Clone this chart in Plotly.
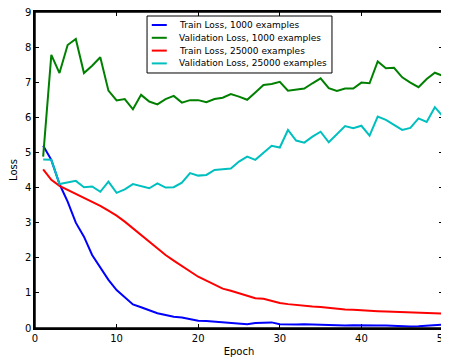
import plotly.graph_objects as go

epochs = list(range(1, 51))

train_1000 = [5.19, 4.79, 4.10, 3.60, 3.00, 2.60, 2.08, 1.73, 1.37, 1.08,
              0.87, 0.67, 0.59, 0.51, 0.42, 0.37, 0.32, 0.30, 0.25, 0.21,
              0.20, 0.18, 0.17, 0.16, 0.14, 0.11, 0.14, 0.15, 0.16, 0.11,
              0.10, 0.10, 0.11, 0.10, 0.09, 0.10, 0.07, 0.07, 0.08, 0.07,
              0.06, 0.07, 0.07, 0.06, 0.04, 0.04, 0.05, 0.07, 0.08, 0.10]

val_1000 = [4.88, 7.78, 7.26, 8.06, 8.23, 7.26, 7.47, 7.71, 6.76, 6.48,
            6.52, 6.23, 6.64, 6.45, 6.37, 6.52, 6.61, 6.42, 6.49, 6.49,
            6.43, 6.52, 6.56, 6.66, 6.59, 6.50, 6.71, 6.92, 6.95, 7.01,
            6.76, 6.78, 6.82, 6.97, 7.11, 6.83, 6.75, 6.82, 6.82, 6.99,
            6.97, 7.59, 7.40, 7.41, 7.14, 6.99, 6.86, 7.09, 7.27, 7.18]

train_25000 = [4.52, 4.22, 4.05, 3.94, 3.82, 3.72, 3.60, 3.48, 3.34, 3.20,
               3.03, 2.84, 2.65, 2.46, 2.27, 2.08, 1.92, 1.77, 1.60, 1.46,
               1.35, 1.23, 1.12, 1.06, 0.99, 0.92, 0.85, 0.83, 0.76, 0.71,
               0.68, 0.65, 0.63, 0.61, 0.60, 0.57, 0.55, 0.53, 0.52, 0.50,
               0.48, 0.48, 0.47, 0.46, 0.44, 0.43, 0.43, 0.43, 0.42, 0.41]

val_25000 = [4.80, 4.79, 4.10, 4.14, 4.19, 4.01, 4.03, 3.88, 4.17, 3.85,
             3.95, 4.10, 4.03, 3.98, 4.12, 4.00, 4.01, 4.14, 4.41, 4.34,
             4.36, 4.50, 4.52, 4.54, 4.74, 4.88, 4.79, 4.99, 5.19, 5.14,
             5.64, 5.34, 5.28, 5.45, 5.59, 5.29, 5.53, 5.75, 5.69, 5.76,
             5.48, 6.02, 5.93, 5.78, 5.64, 5.70, 5.97, 5.87, 6.29, 6.02]

series_names = ["Train Loss, 1000 examples", "Validation Loss, 1000 examples",
                "Train Loss, 25000 examples", "Validation Loss, 25000 examples"]
series_values = [train_1000, val_1000, train_25000, val_25000]
series_colors = ["#0000ff", "#008000", "#ff0000", "#00bfbf"]

x_ticks = [0, 10, 20, 30, 40, 50]
y_ticks = list(range(0, 10))

fig = go.Figure()
for name, vals, color in zip(series_names, series_values, series_colors):
    fig.add_trace(go.Scatter(x=epochs, y=vals, mode="lines", name=name,
                             line=dict(color=color, width=2),
                             showlegend=False))

axis_common = dict(
    showline=True, linecolor="black", linewidth=1.5, mirror="allticks",
    ticks="inside", ticklen=4, tickcolor="black", tickwidth=1, showgrid=False,
    zeroline=False, automargin=False, ticklabeloverflow="allow",
    tickfont=dict(family="DejaVu Sans", size=10, color="black"),
)

# plot frame
shapes = [dict(type="rect", xref="paper", yref="paper", x0=0, x1=1,
               y0=0, y1=1, line=dict(color="black", width=1.5),
               layer="above")]

# custom legend box (matplotlib-like compact legend)
lx0, lx1, ly0, ly1 = 0.2746, 0.7279, 0.807, 0.9873
shapes.append(dict(type="rect", xref="paper", yref="paper", x0=lx0, x1=lx1,
                   y0=ly0, y1=ly1, line=dict(color="black", width=1),
                   fillcolor="white", layer="above"))
annotations = []
row_h = 12.8 / 316.0
first_y = (328 - 25.0) / 316.0
for i, (name, color) in enumerate(zip(series_names, series_colors)):
    yy = first_y - i * row_h
    shapes.append(dict(type="line", xref="paper", yref="paper",
                       x0=0.2862, x1=0.3230, y0=yy, y1=yy,
                       line=dict(color=color, width=2), layer="above"))
    annotations.append(dict(xref="paper", yref="paper", x=0.3475, y=yy,
                            xanchor="left", yanchor="middle", text=name,
                            showarrow=False,
                            font=dict(family="DejaVu Sans", size=9, color="black")))

fig.update_layout(
    width=441, height=352,
    margin=dict(l=27, r=6, t=4, b=32),
    paper_bgcolor="white", plot_bgcolor="white",
    font=dict(family="DejaVu Sans", size=10, color="black"),
    xaxis=dict(range=[0, 50], tickvals=x_ticks,
               title=dict(text="Epoch", standoff=5, font=dict(size=10)),
               **axis_common),
    yaxis=dict(range=[0, 9], tickvals=y_ticks,
               title=dict(text="Loss", standoff=7, font=dict(size=10)),
               **axis_common),
    shapes=shapes,
    annotations=annotations,
    showlegend=False,
)

fig.write_html("out.html")
